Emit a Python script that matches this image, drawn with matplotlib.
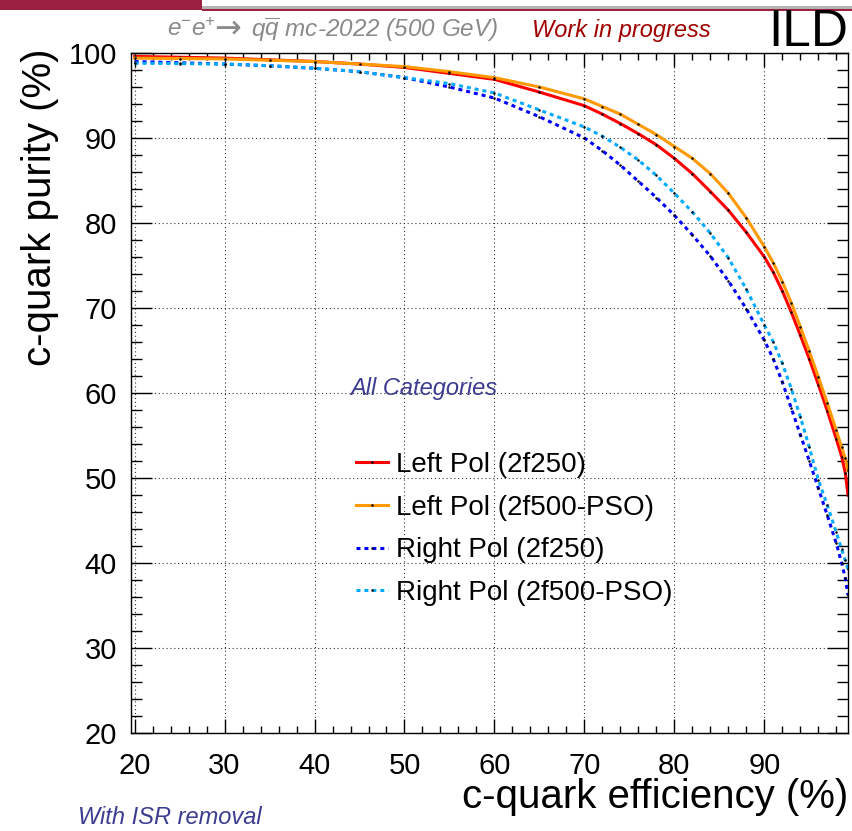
import numpy as np
import matplotlib
matplotlib.use("Agg")
from matplotlib import pyplot as plt
from matplotlib.patches import Rectangle
from matplotlib.ticker import MultipleLocator

plt.rcParams['font.family'] = ['Liberation Sans', 'DejaVu Sans']
plt.rcParams['mathtext.fontset'] = 'custom'
plt.rcParams['mathtext.rm'] = 'Liberation Sans'
plt.rcParams['mathtext.it'] = 'Liberation Sans:italic'

# c-quark efficiency (%) sample points
eff = [20, 25, 30, 35, 40, 45, 50, 55, 60, 65, 70, 72, 74, 76, 78, 80, 82, 84,
       86, 88, 90, 91, 92, 93, 94, 95, 96, 97, 98, 98.6, 99.0, 99.3]

# c-quark purity (%)
left_2f250 = [99.6, 99.5, 99.4, 99.2, 99.0, 98.7, 98.3, 97.6, 96.9, 95.4, 93.8, 92.8,
              91.7, 90.5, 89.2, 87.6, 85.8, 83.7, 81.5, 78.9, 76.0, 74.2, 72.0, 69.5,
              66.8, 64.0, 61.0, 57.9, 54.6, 52.5, 50.6, 48.0]
left_2f500 = [99.4, 99.35, 99.3, 99.15, 99.0, 98.7, 98.4, 97.8, 97.1, 96.0, 94.6, 93.7,
              92.8, 91.6, 90.4, 89.0, 87.6, 85.8, 83.5, 80.6, 77.2, 75.3, 73.1, 70.6,
              67.8, 64.9, 61.9, 58.8, 55.6, 53.6, 52.3, 50.9]
right_2f250 = [99.0, 98.85, 98.7, 98.5, 98.2, 97.8, 97.1, 96.0, 94.7, 92.5, 90.0, 88.5,
               86.8, 84.9, 83.0, 80.9, 78.6, 76.1, 73.2, 69.9, 66.2, 64.0, 61.3, 58.2,
               55.1, 52.0, 48.8, 45.6, 42.3, 40.0, 38.2, 36.2]
right_2f500 = [98.8, 98.75, 98.7, 98.5, 98.2, 97.8, 97.1, 96.4, 95.3, 93.3, 91.3, 90.2,
               88.9, 87.4, 85.6, 83.5, 81.3, 78.8, 75.9, 72.2, 68.0, 66.0, 63.5, 60.5,
               57.2, 53.6, 49.8, 46.8, 43.6, 41.6, 40.3, 39.3]

series = [
    ("Left Pol (2f250)", left_2f250, "#ff0000", "-"),
    ("Left Pol (2f500-PSO)", left_2f500, "#ff9900", "-"),
    ("Right Pol (2f250)", right_2f250, "#0000ff", (0, (1.3, 1.3))),
    ("Right Pol (2f500-PSO)", right_2f500, "#00aaff", (0, (1.3, 1.3))),
]

W, H = 853, 831
fig = plt.figure(figsize=(W / 100, H / 100), dpi=100)
ax = fig.add_axes([131 / W, 1 - 733 / H, (848 - 131) / W, (733 - 53) / H])

for lab, vals, col, ls in series:
    ax.plot(eff, vals, color=col, linestyle=ls, linewidth=2.2, label=lab,
            marker='o', markersize=1.8, markerfacecolor='black',
            markeredgecolor='black', markeredgewidth=0)

ax.set_xlim(19.6, 99.3)
ax.set_ylim(20, 100)
ax.xaxis.set_major_locator(MultipleLocator(10))
ax.xaxis.set_minor_locator(MultipleLocator(2))
ax.yaxis.set_major_locator(MultipleLocator(10))
ax.yaxis.set_minor_locator(MultipleLocator(2))
ax.set_xticks([20, 30, 40, 50, 60, 70, 80, 90])
ax.grid(True, which='major', color='#333333', linestyle=(0, (1, 2.5)), linewidth=0.8)
ax.tick_params(axis='both', which='both', direction='in', top=True, right=True,
               labelsize=21, width=1)
ax.tick_params(axis='x', which='major', length=10, pad=14)
ax.tick_params(axis='x', which='minor', length=5)
ax.tick_params(axis='y', which='major', length=15, pad=10)
ax.tick_params(axis='y', which='minor', length=8)
for sp in ax.spines.values():
    sp.set_linewidth(1)

leg = ax.legend(loc='upper left', bbox_to_anchor=(356 / W, 1 - 452 / H),
                bbox_transform=fig.transFigure, frameon=False, fontsize=20,
                handlelength=1.15, handletextpad=0.3, labelspacing=0.6,
                borderpad=0, borderaxespad=0, numpoints=1)

fig.text(40 / W, 1 - 48 / H, "c-quark purity (%)", rotation=90, ha='center',
         va='top', fontsize=29)
fig.text(848 / W, 1 - 797 / H, "c-quark efficiency (%)", ha='right',
         va='center', fontsize=29)

# header: process label split in three pieces so the arrow gets ROOT-like width
grey = '#8a8a8a'
fig.text(167 / W, 1 - 30 / H, r"e$^{-}$e$^{+}$", ha='left', va='center',
         fontsize=17.5, color=grey, style='italic')
fig.text(228 / W, 1 - 29 / H, "→", ha='center', va='center', fontsize=23,
         color=grey, family='DejaVu Sans')
fig.text(251 / W, 1 - 30 / H, r"q$\overline{q}$ mc-2022 (500 GeV)",
         ha='left', va='center', fontsize=17.5, color=grey, style='italic')
fig.text(532 / W, 1 - 30 / H, "Work in progress", ha='left', va='center',
         fontsize=17, color='#a00000', style='italic')
fig.text(848 / W, 1 - 33 / H, "ILD", ha='right', va='center', fontsize=37,
         color='black')
fig.text(350 / W, 1 - 389 / H, "All Categories", ha='left', va='center',
         fontsize=17, color='#3c3c90', style='italic')
fig.text(78 / W, 1 - 818 / H, "With ISR removal", ha='left', va='center',
         fontsize=17, color='#3c3c90', style='italic')

# header bar
fig.add_artist(Rectangle((0, 1 - 10 / H), 202 / W, 10 / H, transform=fig.transFigure,
                         facecolor='#9b2143', edgecolor='none'))
fig.add_artist(Rectangle((202 / W, 1 - 9 / H), 1 - 202 / W, 3.5 / H,
                         transform=fig.transFigure, facecolor='#b4b4b4', edgecolor='none'))
fig.add_artist(Rectangle((202 / W, 1 - 10.5 / H), 1 - 202 / W, 1.5 / H,
                         transform=fig.transFigure, facecolor='#9b2143', edgecolor='none'))

fig.savefig("out.png", dpi=100)
